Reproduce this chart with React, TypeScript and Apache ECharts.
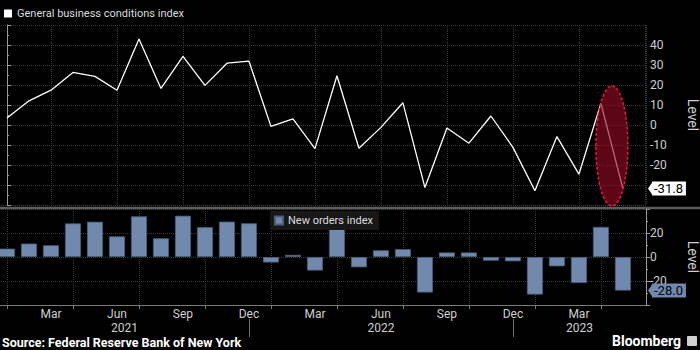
import React, { useEffect, useRef } from 'react';
import * as echarts from 'echarts';

const months = [
  '2021-01', '2021-02', '2021-03', '2021-04', '2021-05', '2021-06', '2021-07', '2021-08', '2021-09', '2021-10', '2021-11', '2021-12',
  '2022-01', '2022-02', '2022-03', '2022-04', '2022-05', '2022-06', '2022-07', '2022-08', '2022-09', '2022-10', '2022-11', '2022-12',
  '2023-01', '2023-02', '2023-03', '2023-04', '2023-05',
];
const monthNames = ['Jan', 'Feb', 'Mar', 'Apr', 'May', 'Jun', 'Jul', 'Aug', 'Sep', 'Oct', 'Nov', 'Dec'];

const generalBusiness = [
  3.5, 12.1, 17.4, 26.3, 24.3, 17.4, 43.0, 18.3, 34.3, 19.8, 30.9, 31.9,
  -0.7, 3.1, -11.8, 24.6, -11.6, -1.2, 11.1, -31.3, -1.5, -9.1, 4.5, -11.2,
  -32.9, -5.8, -24.6, 10.8, -31.8,
];
const newOrders = [
  7.0, 11.2, 9.8, 28.0, 29.4, 17.2, 33.9, 15.6, 34.4, 24.9, 29.5, 28.1,
  -4.6, 1.8, -11.3, 25.9, -8.6, 5.6, 6.6, -29.6, 3.8, 3.8, -3.1, -3.6,
  -31.3, -7.8, -21.7, 25.1, -28.0,
];

const topTickLabels = [-20, -10, 0, 10, 20, 30, 40];
const bottomTickLabels = [-20, 0, 20];

const X_MIN = -1;
const X_MAX = 29.05;
const VIEW_START = -0.32;
const SHIFT = 15; // chart canvas starts 15px left of the page so that x = -1 sits off-screen

export default function App() {
  const ref = useRef<HTMLDivElement>(null);

  useEffect(() => {
    document.body.style.margin = '0';
    document.body.style.background = '#000';
    document.body.style.overflow = 'hidden';
    const chart = echarts.init(ref.current as HTMLDivElement, null, { renderer: 'svg' });
    const FONT = 'Roboto, "Noto Sans", sans-serif';
    const n = months.length;
    const idx = months.map((_, i) => i);
    const monthOf = (i: number) => parseInt(months[i].slice(5), 10);
    const quarterTicks = idx.filter((i) => (monthOf(i) - 1) % 3 === 0);
    const decIdx = idx.filter((i) => monthOf(i) === 12);
    const years = Array.from(new Set(months.map((m) => m.slice(0, 4))));
    const bounds = [VIEW_START, ...decIdx, X_MAX];
    const yearCenters = years.map((_, k) => (bounds[k] + bounds[k + 1]) / 2);
    const monthLabel = (v: number) =>
      Number.isInteger(v) && v >= 0 && v < n ? monthNames[monthOf(v) - 1] : '';
    const yearLabel = (v: number) => {
      const k = yearCenters.findIndex((c) => Math.abs(c - v) < 1e-6);
      return k >= 0 ? years[k] : '';
    };
    const gridLine = { show: true, lineStyle: { color: '#3d3d3d', type: 'dotted' as const, width: 1 } };
    const axisGray = '#9a9a9a';
    const labelStyle = { color: '#cfcfcf', fontSize: 12, fontFamily: FONT };
    const lastG = generalBusiness[n - 1];
    const lastN = newOrders[n - 1];
    const BAR_COLOR = '#7189ad';

    const xBase = {
      type: 'value' as const,
      min: X_MIN,
      max: X_MAX,
      interval: 3,
    };

    const levelName = {
      name: 'Level',
      nameLocation: 'middle' as const,
      nameRotate: -90,
      nameGap: 40,
      nameTextStyle: { color: '#cfcfcf', fontSize: 14, fontFamily: FONT },
    };

    chart.setOption({
      animation: false,
      backgroundColor: '#000',
      textStyle: { fontFamily: FONT },
      legend: [
        {
          data: [{ name: 'General business conditions index', icon: 'rect' }],
          left: SHIFT,
          top: 6,
          padding: [2, 4],
          itemWidth: 8,
          itemHeight: 8,
          textStyle: { color: '#dddddd', fontSize: 11, fontFamily: FONT },
        },
        {
          data: [{ name: 'New orders index', icon: 'rect' }],
          left: 270 + SHIFT,
          top: 211,
          padding: [4, 6, 4, 4],
          backgroundColor: '#171717',
          itemWidth: 8,
          itemHeight: 8,
          textStyle: { color: '#dddddd', fontSize: 11, fontFamily: FONT },
        },
      ],
      grid: [
        { left: 0, right: 54, top: 25, height: 180, containLabel: false, outerBoundsMode: 'none' },
        { left: 0, right: 54, top: 209, height: 96, containLabel: false, outerBoundsMode: 'none' },
      ],
      xAxis: [
        {
          ...xBase,
          gridIndex: 0,
          axisLine: { show: false },
          axisTick: { show: false },
          axisLabel: { show: false },
          splitLine: gridLine,
        },
        {
          ...xBase,
          gridIndex: 1,
          position: 'bottom',
          axisLine: { show: true, onZero: false, lineStyle: { color: '#7a7a7a', width: 1 } },
          axisTick: { show: true, customValues: quarterTicks, length: 4, lineStyle: { color: '#7a7a7a' } },
          axisLabel: { show: true, formatter: monthLabel, margin: 3, ...labelStyle },
          splitLine: gridLine,
        },
        {
          type: 'value',
          min: X_MIN,
          max: X_MAX,
          gridIndex: 1,
          position: 'bottom',
          offset: 14,
          axisLine: { show: false, onZero: false },
          axisTick: { show: true, customValues: decIdx, length: 18, lineStyle: { color: '#6a6a6a' } },
          axisLabel: { show: true, customValues: yearCenters, formatter: yearLabel, margin: 3, ...labelStyle },
          splitLine: { show: false },
        },
      ],
      yAxis: [
        {
          type: 'value',
          gridIndex: 0,
          position: 'right',
          min: -40,
          max: 50,
          interval: 10,
          axisLine: { show: true, lineStyle: { color: axisGray } },
          axisTick: { show: true, length: 4, lineStyle: { color: axisGray } },
          minorTick: { show: true, splitNumber: 2, length: 2, lineStyle: { color: axisGray } },
          axisLabel: {
            ...labelStyle,
            margin: 4,
            formatter: (v: number) => (topTickLabels.includes(v) ? String(v) : ''),
          },
          splitLine: gridLine,
          ...levelName,
        },
        {
          type: 'value',
          gridIndex: 1,
          position: 'right',
          min: -40,
          max: 40,
          interval: 20,
          axisLine: { show: true, onZero: false, lineStyle: { color: axisGray } },
          axisTick: { show: true, length: 4, lineStyle: { color: axisGray } },
          minorTick: { show: true, splitNumber: 2, length: 2, lineStyle: { color: axisGray } },
          axisLabel: {
            ...labelStyle,
            margin: 4,
            formatter: (v: number) => (bottomTickLabels.includes(v) ? String(v) : ''),
          },
          splitLine: gridLine,
          ...levelName,
        },
      ],
      series: [
        {
          name: 'General business conditions index',
          type: 'line',
          xAxisIndex: 0,
          yAxisIndex: 0,
          data: generalBusiness.map((v, i) => [i, v]),
          symbol: 'none',
          color: '#ffffff',
          lineStyle: { color: '#ffffff', width: 1.3 },
          z: 3,
        },
        {
          name: 'New orders index',
          type: 'bar',
          xAxisIndex: 1,
          yAxisIndex: 1,
          data: newOrders.map((v, i) => [i, v]),
          barWidth: 16,
          color: BAR_COLOR,
          itemStyle: { color: BAR_COLOR, borderColor: '#4b5d78', borderWidth: 0.8 },
          z: 3,
        },
      ],
    });

    const center = chart.convertToPixel({ gridIndex: 0 }, [
      n - 1.5,
      (generalBusiness[n - 2] + generalBusiness[n - 1]) / 2,
    ]) as number[];
    const topEnd = chart.convertToPixel({ gridIndex: 0 }, [X_MAX, lastG]) as number[];
    const botEnd = chart.convertToPixel({ gridIndex: 1 }, [X_MAX, lastN]) as number[];

    const valueTag = (p: number[], value: number, bg: string) => [
      {
        type: 'polygon',
        shape: {
          points: [
            [p[0] + 2, p[1]],
            [p[0] + 6.5, p[1] - 6.5],
            [p[0] + 6.5, p[1] + 6.5],
          ],
        },
        style: { fill: bg },
        z: 40,
      },
      {
        type: 'text',
        x: p[0] + 6,
        y: p[1],
        style: {
          text: value.toFixed(1),
          fill: '#000000',
          font: `13px ${FONT}`,
          verticalAlign: 'middle',
          align: 'left',
          backgroundColor: bg,
          padding: [1, 3, 0, 2],
        },
        z: 40,
      },
    ];

    chart.setOption({
      graphic: {
        elements: [
          {
            type: 'line',
            shape: { x1: 0, y1: 208, x2: 700 + SHIFT, y2: 208 },
            style: { stroke: '#5c5c5c', lineWidth: 2.5 },
            z: 20,
          },
          {
            type: 'ellipse',
            shape: { cx: center[0], cy: center[1], rx: 16, ry: 60 },
            style: {
              fill: 'rgba(150, 10, 35, 0.62)',
              stroke: '#e8173f',
              lineWidth: 1.5,
              lineDash: [3, 2],
            },
            z: 30,
          },
          ...valueTag(topEnd, lastG, '#ffffff'),
          ...valueTag(botEnd, lastN, BAR_COLOR),
          {
            type: 'text',
            left: 2 + SHIFT,
            top: 336,
            style: {
              text: 'Source: Federal Reserve Bank of New York',
              fill: '#ffffff',
              font: `bold 12.5px ${FONT}`,
            },
          },
          {
            type: 'text',
            left: 612 + SHIFT,
            top: 334,
            style: {
              text: 'Bloomberg',
              fill: '#ffffff',
              font: `bold 14px ${FONT}`,
            },
          },
          {
            type: 'rect',
            shape: { x: 687 + SHIFT, y: 336, width: 10, height: 10, r: 1 },
            style: { fill: '#cfcfcf' },
          },
        ],
      },
    });

    return () => chart.dispose();
  }, []);

  return (
    <div
      ref={ref}
      style={{ width: 700 + SHIFT, height: 350, marginLeft: -SHIFT }}
    />
  );
}
